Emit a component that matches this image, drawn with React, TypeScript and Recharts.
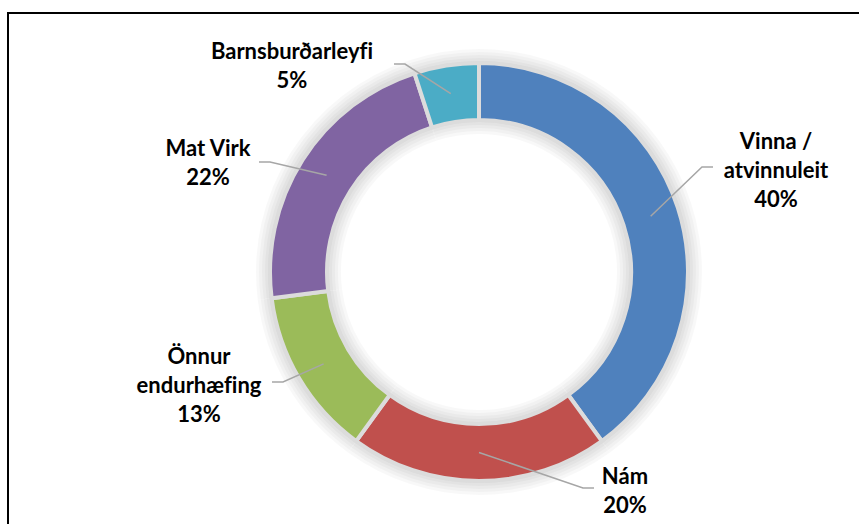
import { PieChart, Pie, Cell } from 'recharts';

// Share of participants by status (%)
const categories = ['Vinna /\natvinnuleit', 'Nám', 'Önnur\nendurhæfing', 'Mat Virk', 'Barnsburðarleyfi'];
const shares = [40, 20, 13, 22, 5];
const colors = ['#4f81bd', '#c0504d', '#9bbb59', '#8064a2', '#4bacc6'];

// Hand-placed label blocks (text centre + leader end), relative to the pie centre
const labelOffsets = [
  { tx: 297, ty: -102, ex: 234, ey: -105, dir: -1 },
  { tx: 146, ty: 218, ex: 115, ey: 216, dir: -1 },
  { tx: -280, ty: 113, ex: -207, ey: 110, dir: 1 },
  { tx: -271, ty: -110, ex: -220, ey: -110, dir: 1 },
  { tx: -187, ty: -207, ex: -85, ey: -208, dir: 1 },
];

// soft glow around the ring, built from stacked translucent rings
const glowPads = [16, 13, 10, 7, 4];

const data = categories.map((name, i) => ({ name, value: shares[i] }));

const LINE_H = 29;
const RAD = Math.PI / 180;
const INNER = 154;
const OUTER = 207;

const renderLabel = (props: any) => {
  const { cx, cy, midAngle, innerRadius, outerRadius, index, percent } = props;
  const lay = labelOffsets[index];
  const r = (innerRadius + outerRadius) / 2;
  const sx = cx + r * Math.cos(-midAngle * RAD);
  const sy = cy + r * Math.sin(-midAngle * RAD);
  const ex = cx + lay.ex;
  const ey = cy + lay.ey;
  const bx = ex + lay.dir * 11;
  const lines = [...categories[index].split('\n'), `${Math.round(percent * 100)}%`];
  const tx = cx + lay.tx;
  const ty = cy + lay.ty;
  return (
    <g>
      <polyline
        points={`${sx},${sy} ${bx},${ey} ${ex},${ey}`}
        fill="none"
        stroke="#a6a6a6"
        strokeWidth={1.5}
      />
      {lines.map((ln, i) => (
        <text
          key={i}
          x={tx}
          y={ty + (i - (lines.length - 1) / 2) * LINE_H + 8}
          textAnchor="middle"
          fontFamily="Lato"
          fontWeight={700}
          fontSize={22}
          fill="#000"
          style={{ fontVariantLigatures: 'none' }}
        >
          {ln}
        </text>
      ))}
    </g>
  );
};

export default function App() {
  return (
    <div style={{ position: 'absolute', left: 0, top: 0, width: 859, height: 524, background: '#fff', overflow: 'hidden' }}>
      <div
        style={{
          position: 'absolute',
          left: 7,
          top: 12,
          width: 900,
          height: 600,
          border: '2px solid #000',
        }}
      />
      <div style={{ position: 'absolute', left: 0, top: 0 }}>
        <PieChart width={859} height={524} margin={{ top: 0, right: 0, bottom: 0, left: 0 }}>
          {glowPads.map((pad) => (
            <Pie
              key={pad}
              data={data}
              dataKey="value"
              cx={479}
              cy={272}
              innerRadius={INNER - pad}
              outerRadius={OUTER + pad}
              startAngle={90}
              endAngle={-270}
              fill="#000"
              fillOpacity={0.028}
              stroke="none"
              isAnimationActive={false}
              legendType="none"
            />
          ))}
          <Pie
            data={data}
            dataKey="value"
            cx={479}
            cy={272}
            innerRadius={INNER - 2}
            outerRadius={OUTER + 2}
            startAngle={90}
            endAngle={-270}
            stroke="#dcdcdc"
            strokeWidth={4}
            label={renderLabel}
            labelLine={false}
            isAnimationActive={false}
          >
            {data.map((d, i) => (
              <Cell key={d.name} fill={colors[i]} />
            ))}
          </Pie>
        </PieChart>
      </div>
    </div>
  );
}
